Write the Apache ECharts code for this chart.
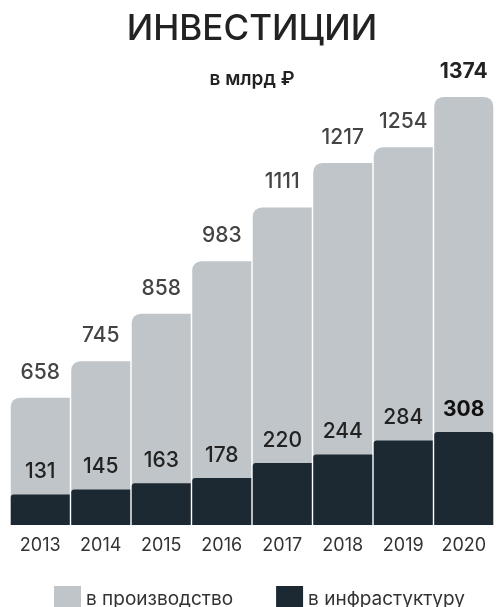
<!DOCTYPE html>
<html>
<head>
<meta charset="utf-8">
<script src="https://cdn.jsdelivr.net/npm/echarts@6/dist/echarts.min.js"></script>
<style>
html,body{margin:0;padding:0;background:#fff;}
#chart{width:496px;height:607px;}
</style>
</head>
<body>
<div id="chart"></div>
<script>
const years = ['2013','2014','2015','2016','2017','2018','2019','2020'];
const production = [658, 745, 858, 983, 1111, 1217, 1254, 1374];
const infrastructure = [131, 145, 163, 178, 220, 244, 284, 308];
const seriesNames = ['в производство', 'в инфрастуктуру'];
const titleText = 'ИНВЕСТИЦИИ';
const unitText = 'в млрд ₽';

const LIGHT = '#bfc5c8';
const DARK = '#1c2933';
const FONT = 'Inter, "Noto Sans", sans-serif';
const last = years.length - 1;

const chart = echarts.init(document.getElementById('chart'), null, {renderer: 'canvas'});

const lightData = production.map((v, i) => i === last
  ? {value: v, itemStyle: {borderRadius: [9, 9, 0, 0]}, label: {fontWeight: 700, color: '#222'}}
  : {value: v});
const darkData = infrastructure.map((v, i) => i === last
  ? {value: v, itemStyle: {borderRadius: [3, 3, 0, 0]}, label: {fontWeight: 700, color: '#111'}}
  : {value: v});

chart.setOption({
  animation: false,
  backgroundColor: '#ffffff',
  textStyle: {fontFamily: FONT},
  graphic: [
    {type: 'text', style: {x: 252, y: 29, text: titleText, textAlign: 'center', textVerticalAlign: 'middle',
      font: '500 35px Inter, "Noto Sans", sans-serif', fill: '#222'}},
    {type: 'text', style: {x: 252, y: 79, text: unitText, textAlign: 'center', textVerticalAlign: 'middle',
      font: '600 19px Inter, "Noto Sans", sans-serif', fill: '#222'}}
  ],
  legend: {
    left: 49, top: 581,
    itemWidth: 27, itemHeight: 27, itemGap: 43,
    icon: 'rect',
    textStyle: {fontSize: 19, color: '#333', fontFamily: FONT},
    data: seriesNames
  },
  grid: {left: 10, right: 2, top: 60, bottom: 82, containLabel: false},
  xAxis: {
    type: 'category',
    data: years,
    axisLine: {show: false},
    axisTick: {show: false},
    axisLabel: {color: '#333', fontSize: 18, margin: 12, fontFamily: FONT}
  },
  yAxis: [
    {type: 'value', min: 355, max: 1462, show: false, splitLine: {show: false}},
    {type: 'value', min: 45, max: 1359, show: false, splitLine: {show: false}}
  ],
  series: [
    {
      name: seriesNames[0], type: 'bar', yAxisIndex: 0,
      data: lightData, barWidth: 59, barGap: '-100%', z: 1,
      itemStyle: {color: LIGHT, borderRadius: [9, 0, 0, 0]},
      label: {show: true, position: 'top', distance: 15, fontSize: 21, color: '#444', fontWeight: 500, fontFamily: FONT}
    },
    {
      name: seriesNames[1], type: 'bar', yAxisIndex: 1,
      data: darkData, barWidth: 59, barGap: '-100%', z: 2,
      itemStyle: {color: DARK, borderRadius: [3, 0, 0, 0]},
      label: {show: true, position: 'top', distance: 12, fontSize: 21, color: '#222', fontWeight: 500, fontFamily: FONT}
    }
  ]
});
</script>
</body>
</html>
